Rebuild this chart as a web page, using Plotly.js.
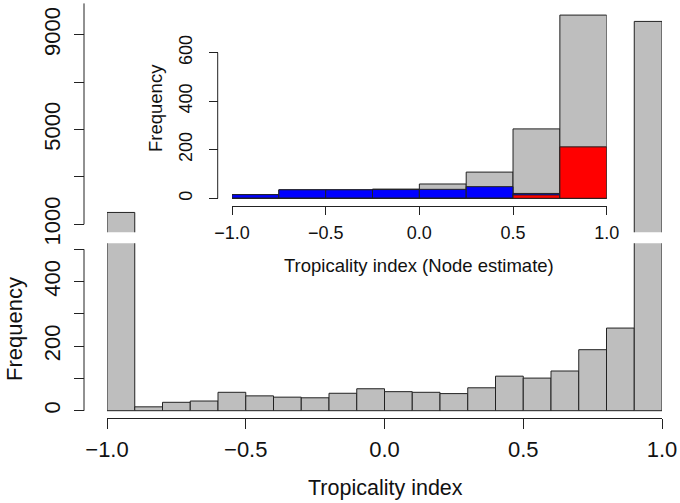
<!DOCTYPE html>
<html>
<head>
<meta charset="utf-8">
<script src="https://cdn.plot.ly/plotly-3.0.1.min.js"></script>
<style>html,body{margin:0;padding:0;background:#fff;}#chart{width:680px;height:503px;}</style>
</head>
<body>
<div id="chart"></div>
<script>
// ---- main histogram (Tropicality index), bins of width 0.1, left edges ----
var mainBinStarts = [-1.0, -0.9, -0.8, -0.7, -0.6, -0.5, -0.4, -0.3, -0.2, -0.1,
                      0.0,  0.1,  0.2,  0.3,  0.4,  0.5,  0.6,  0.7,  0.8,  0.9];
var mainCounts    = [1500, 12, 26, 30, 57, 46, 42, 40, 54, 68,
                       59, 57, 53, 71, 107, 101, 123, 189, 256, 9560];
var mainBinWidth = 0.1;
var gapFrom = 600;   // counts above this continue into the upper (broken) panel

// ---- inset histogram (Node estimate), bins of width 0.25, left edges ----
var insetBinStarts = [-1.0, -0.75, -0.5, -0.25, 0.0, 0.25, 0.5, 0.75];
var insetAll       = [15, 35, 35, 38, 59, 108, 286, 755];
var insetBlue      = [15, 35, 35, 36, 37, 48, 20, 0];
var insetRed       = [0, 0, 0, 0, 0, 0, 14, 212];
var insetBinWidth = 0.25;

// tick labels
var xTickVals = [-1, -0.5, 0, 0.5, 1];
var xTickText = ['\u22121.0', '\u22120.5', '0.0', '0.5', '1.0'];
var lowTickVals = [0, 100, 200, 300, 400, 500];
var lowTickText = ['0', '', '200', '', '400', ''];
var highTickVals = [1000, 3000, 5000, 7000, 9000];
var highTickText = ['1000', '', '5000', '', '9000'];
var insetYTickVals = [0, 200, 400, 600];
var insetYTickText = ['0', '200', '400', '600'];

var W = 680, H = 503;
function px(x){ return x / W; }
function py(y){ return 1 - y / H; }

var GRAY = '#bebebe', EDGE = '#222222', AX = '#222222';
var FONT = 'Liberation Sans, Arial, Helvetica, sans-serif';

function barTrace(xs, ys, w, color, xa, ya){
  return {
    type: 'bar', x: xs, y: ys, width: w, offset: 0,
    xaxis: xa, yaxis: ya,
    marker: {color: color, line: {color: EDGE, width: 1}},
    hoverinfo: 'skip', showlegend: false
  };
}

var upperCounts = mainCounts.map(function(v){ return v > gapFrom ? v : null; });

var data = [
  barTrace(mainBinStarts, mainCounts, mainBinWidth, GRAY, 'x', 'y'),
  barTrace(mainBinStarts, upperCounts, mainBinWidth, GRAY, 'x2', 'y2'),
  barTrace(insetBinStarts, insetAll, insetBinWidth, GRAY, 'x3', 'y3'),
  barTrace(insetBinStarts, insetBlue, insetBinWidth, '#0000ff', 'x3', 'y3'),
  barTrace(insetBinStarts, insetRed, insetBinWidth, '#ff0000', 'x3', 'y3')
];

var mainXDomain = [px(107), px(662)];
var tickFontMain = {family: FONT, size: 22, color: '#111'};
var tickFontInset = {family: FONT, size: 18, color: '#111'};

var layout = {
  width: W, height: H,
  margin: {l: 0, r: 0, t: 0, b: 0, pad: 0},
  paper_bgcolor: '#fff', plot_bgcolor: 'rgba(0,0,0,0)',
  barmode: 'overlay', bargap: 0,
  showlegend: false,
  font: {family: FONT, color: '#111'},
  xaxis: {
    domain: mainXDomain, range: [-1, 1], anchor: 'y',
    showgrid: false, zeroline: false,
    showline: true, linecolor: AX, linewidth: 1,
    ticks: 'outside', ticklen: 10, tickwidth: 1, tickcolor: AX,
    tickvals: xTickVals, ticktext: xTickText, tickfont: tickFontMain,
    ticklabelstandoff: 2
  },
  // lower panel: 0..500 (below the axis break)
  yaxis: {
    domain: [py(418), py(243.3)], range: [-22.6, 518.6],
    anchor: 'free', position: px(84),
    showgrid: false, zeroline: false, showline: false,
    ticks: 'outside', ticklen: 10, tickwidth: 1, tickcolor: AX,
    tickvals: lowTickVals, ticktext: lowTickText, tickfont: tickFontMain,
    tickangle: -90, ticklabelstandoff: 5
  },
  xaxis2: {
    domain: mainXDomain, range: [-1, 1], anchor: 'y2', matches: 'x',
    visible: false, showgrid: false, zeroline: false
  },
  // upper panel: 1000.. (above the axis break)
  yaxis2: {
    domain: [py(232.3), 1], range: [662.4, 10464],
    anchor: 'free', position: px(84),
    showgrid: false, zeroline: false, showline: false,
    ticks: 'outside', ticklen: 10, tickwidth: 1, tickcolor: AX,
    tickvals: highTickVals, ticktext: highTickText, tickfont: tickFontMain,
    tickangle: -90, ticklabelstandoff: 5
  },
  xaxis3: {
    domain: [px(232), px(606.7)], range: [-1, 1], anchor: 'y3',
    showgrid: false, zeroline: false,
    showline: true, linecolor: AX, linewidth: 1,
    ticks: 'outside', ticklen: 8, tickwidth: 1, tickcolor: AX,
    tickvals: xTickVals, ticktext: xTickText, tickfont: tickFontInset,
    ticklabelstandoff: 2
  },
  yaxis3: {
    domain: [py(206), 1], range: [-31.7, 817.2],
    anchor: 'free', position: px(217.7),
    showgrid: false, zeroline: false, showline: false,
    ticks: 'outside', ticklen: 9, tickwidth: 1, tickcolor: AX,
    tickvals: insetYTickVals, ticktext: insetYTickText, tickfont: tickFontInset,
    tickangle: -90, ticklabelstandoff: 10
  },
  shapes: [
    {type: 'line', xref: 'paper', yref: 'y', x0: px(84), x1: px(84), y0: 0, y1: 500,
     line: {color: AX, width: 1}},
    {type: 'line', xref: 'paper', yref: 'y2', x0: px(84), x1: px(84), y0: 1000, y1: 10320,
     line: {color: AX, width: 1}},
    {type: 'line', xref: 'paper', yref: 'y3', x0: px(217.7), x1: px(217.7), y0: 0, y1: 600,
     line: {color: AX, width: 1}}
  ],
  annotations: [
    {text: 'Frequency', xref: 'paper', yref: 'paper', x: px(14), y: py(329),
     showarrow: false, textangle: -90, xanchor: 'center', yanchor: 'middle',
     font: {family: FONT, size: 22, color: '#111'}},
    {text: 'Tropicality index', xref: 'paper', yref: 'paper', x: px(385), y: py(488),
     showarrow: false, xanchor: 'center', yanchor: 'middle',
     font: {family: FONT, size: 21.5, color: '#111'}},
    {text: 'Frequency', xref: 'paper', yref: 'paper', x: px(156), y: py(108),
     showarrow: false, textangle: -90, xanchor: 'center', yanchor: 'middle',
     font: {family: FONT, size: 18.5, color: '#111'}},
    {text: 'Tropicality index (Node estimate)', xref: 'paper', yref: 'paper', x: px(419), y: py(265),
     showarrow: false, xanchor: 'center', yanchor: 'middle',
     font: {family: FONT, size: 18.5, color: '#111'}}
  ]
};

Plotly.newPlot('chart', data, layout, {staticPlot: true, displayModeBar: false});
</script>
</body>
</html>
